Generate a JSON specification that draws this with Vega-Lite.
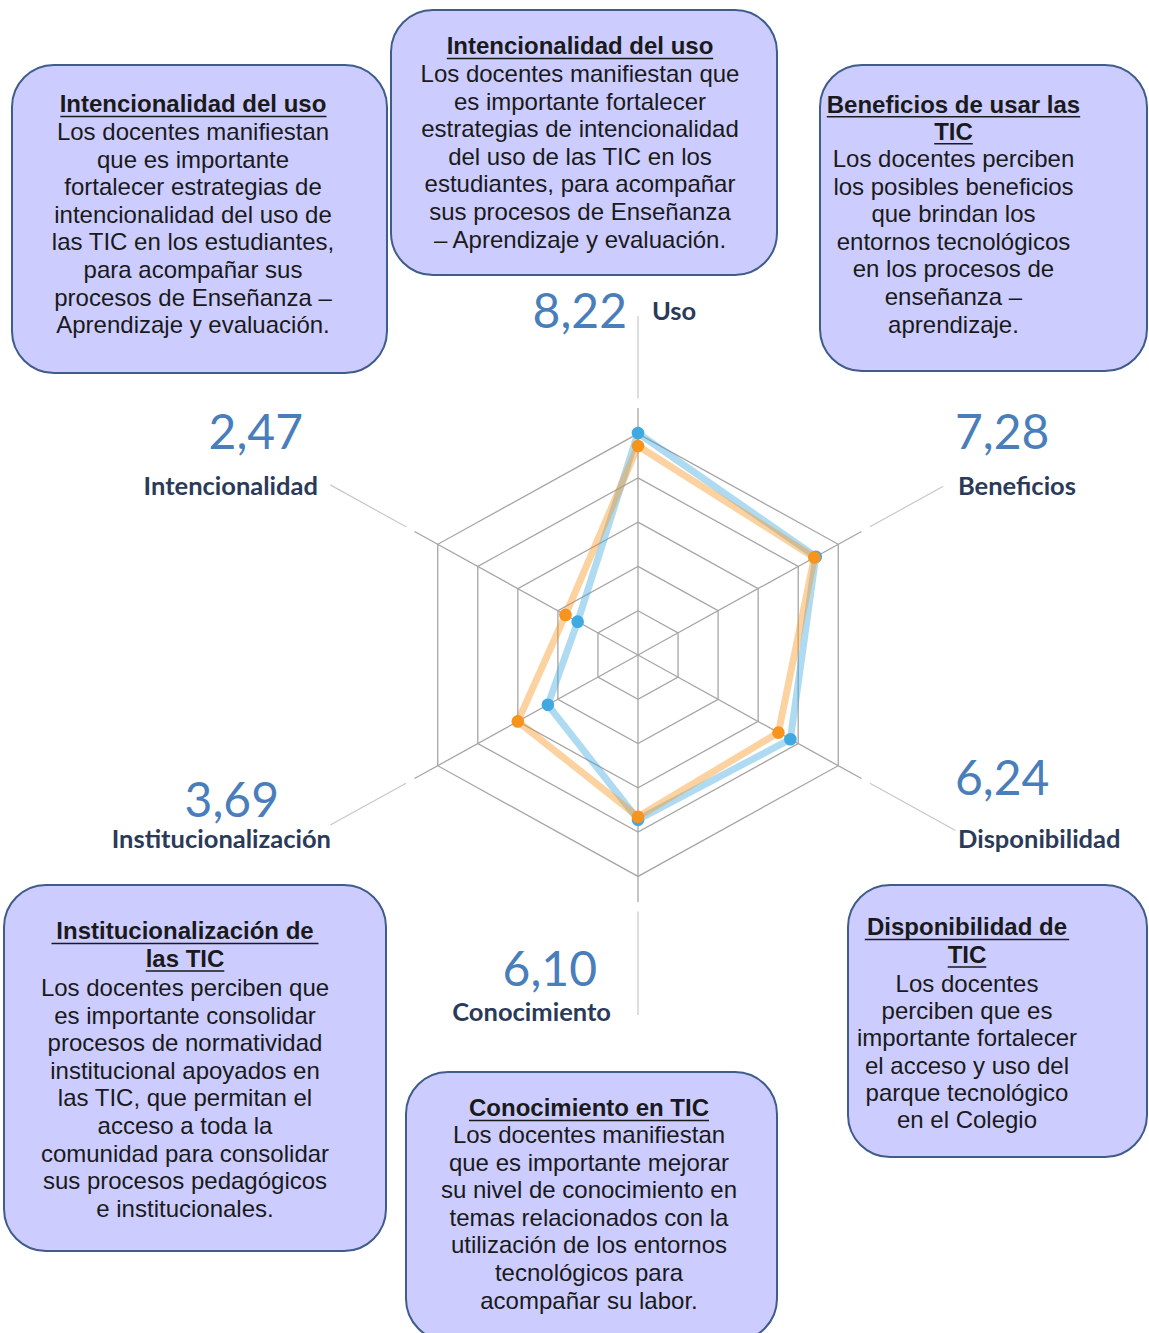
{
"$schema":"https://vega.github.io/schema/vega-lite/v6.json",
"width":1149,"height":1333,
"autosize":{"type":"fit","contains":"padding"},
"padding":0,
"background":"white",
"config":{"view":{"stroke":null},"axis":{"disable":true},"legend":{"disable":true},
 "locale":{"number":{"decimal":",","thousands":".","grouping":[3],"currency":["","€"]}}},
"datasets":{
 "axes":[{"cat":"Uso","k":0},{"cat":"Beneficios","k":1},{"cat":"Disponibilidad","k":2},{"cat":"Conocimiento","k":3},{"cat":"Institucionalización","k":4},{"cat":"Intencionalidad","k":5}],
 "rings":[{"level":1.64,"k":[0,1,2,3,4,5]},{"level":3.28,"k":[0,1,2,3,4,5]},{"level":4.92,"k":[0,1,2,3,4,5]},{"level":6.56,"k":[0,1,2,3,4,5]},{"level":8.2,"k":[0,1,2,3,4,5]}],
 "scores":[
  {"series":"A","cat":"Uso","value":8.22},{"series":"A","cat":"Beneficios","value":7.28},{"series":"A","cat":"Disponibilidad","value":6.24},{"series":"A","cat":"Conocimiento","value":6.10},{"series":"A","cat":"Institucionalización","value":3.69},{"series":"A","cat":"Intencionalidad","value":2.47},
  {"series":"B","cat":"Uso","value":7.74},{"series":"B","cat":"Beneficios","value":7.22},{"series":"B","cat":"Disponibilidad","value":5.75},{"series":"B","cat":"Conocimiento","value":5.99},{"series":"B","cat":"Institucionalización","value":4.92},{"series":"B","cat":"Intencionalidad","value":2.97}],
 "notes":[
  {"box":"Uso","title":["Intencionalidad del uso"],"body":["Los docentes manifiestan que","es importante fortalecer","estrategias de intencionalidad","del uso de las TIC en los","estudiantes, para acompañar","sus procesos de Enseñanza","– Aprendizaje y evaluación."]},
  {"box":"Intencionalidad","title":["Intencionalidad del uso"],"body":["Los docentes manifiestan","que es importante","fortalecer estrategias de","intencionalidad del uso de","las TIC en los estudiantes,","para acompañar sus","procesos de Enseñanza –","Aprendizaje y evaluación."]},
  {"box":"Beneficios","title":["Beneficios de usar las","TIC"],"body":["Los docentes perciben","los posibles beneficios","que brindan los","entornos tecnológicos","en los procesos de","enseñanza –","aprendizaje."]},
  {"box":"Disponibilidad","title":["Disponibilidad de","TIC"],"body":["Los docentes","perciben que es","importante fortalecer","el acceso y uso del","parque tecnológico","en el Colegio"]},
  {"box":"Conocimiento","title":["Conocimiento en TIC"],"body":["Los docentes manifiestan","que es importante mejorar","su nivel de conocimiento en","temas relacionados con la","utilización de los entornos","tecnológicos para","acompañar su labor."]},
  {"box":"Institucionalización","title":["Institucionalización de","las TIC"],"body":["Los docentes perciben que","es importante consolidar","procesos de normatividad","institucional apoyados en","las TIC, que permitan el","acceso a toda la","comunidad para consolidar","sus procesos pedagógicos","e institucionales."]}
 ]
},
"layer":[
 {"data":{"name":"rings"},
  "transform":[{"flatten":["k"]},{"calculate":"datum.level*sin(datum.k*PI/3)","as":"x"},{"calculate":"datum.level*cos(datum.k*PI/3)","as":"y"}],
  "mark":{"type":"line","interpolate":"linear-closed","color":"#A6A6A6","strokeWidth":1.3},
  "encoding":{"x":{"field":"x","type":"quantitative","scale":{"domain":[-22.624,18.121],"nice":false,"zero":false}},
   "y":{"field":"y","type":"quantitative","scale":{"domain":[-25.111,24.259],"nice":false,"zero":false}},
   "detail":{"field":"level","type":"nominal"},"order":{"field":"k","type":"quantitative"}}},
 {"data":{"name":"axes"},
  "transform":[{"calculate":"9.15*sin(datum.k*PI/3)","as":"x"},{"calculate":"9.15*cos(datum.k*PI/3)","as":"y"}],
  "mark":{"type":"rule","color":"#A6A6A6","strokeWidth":1.3},
  "encoding":{"x":{"field":"x","type":"quantitative"},"y":{"field":"y","type":"quantitative"},"x2":{"datum":0},"y2":{"datum":0}}},
 {"data":{"name":"axes"},
  "transform":[{"calculate":"[12.55,12.5,13.0,13.33,12.6,12.6][datum.k]","as":"r1"},
   {"calculate":"9.5*sin(datum.k*PI/3)","as":"x"},{"calculate":"9.5*cos(datum.k*PI/3)","as":"y"},
   {"calculate":"datum.r1*sin(datum.k*PI/3)","as":"x2"},{"calculate":"datum.r1*cos(datum.k*PI/3)","as":"y2"}],
  "mark":{"type":"rule","color":"#C8C8C8","strokeWidth":1.2},
  "encoding":{"x":{"field":"x","type":"quantitative"},"y":{"field":"y","type":"quantitative"},"x2":{"field":"x2"},"y2":{"field":"y2"}}},
 {"data":{"name":"scores"},
  "transform":[{"lookup":"cat","from":{"data":{"name":"axes"},"key":"cat","fields":["k"]}},
   {"calculate":"datum.value*sin(datum.k*PI/3)","as":"x"},{"calculate":"datum.value*cos(datum.k*PI/3)","as":"y"}],
  "mark":{"type":"line","interpolate":"linear-closed","strokeWidth":7,"opacity":0.42,"strokeJoin":"round"},
  "encoding":{"x":{"field":"x","type":"quantitative"},"y":{"field":"y","type":"quantitative"},
   "color":{"field":"series","type":"nominal","scale":{"domain":["A","B"],"range":["#41A9E1","#F7941D"]}},
   "order":{"field":"k","type":"quantitative"}}},
 {"data":{"name":"scores"},
  "transform":[{"lookup":"cat","from":{"data":{"name":"axes"},"key":"cat","fields":["k"]}},
   {"calculate":"datum.value*sin(datum.k*PI/3)","as":"x"},{"calculate":"datum.value*cos(datum.k*PI/3)","as":"y"}],
  "mark":{"type":"point","filled":true,"size":160,"opacity":1},
  "encoding":{"x":{"field":"x","type":"quantitative"},"y":{"field":"y","type":"quantitative"},
   "color":{"field":"series","type":"nominal","scale":{"domain":["A","B"],"range":["#41A9E1","#F7941D"]}}}},

 {"data":{"name":"scores"},"transform":[{"filter":"datum.series=='A' && datum.cat=='Uso'"}],
  "mark":{"type":"text","align":"right","baseline":"middle","font":"Lato","fontSize":48,"color":"#4A7EBB"},
  "encoding":{"x":{"datum":-0.39,"type":"quantitative"},"y":{"datum":12.63,"type":"quantitative"},"text":{"field":"value","type":"quantitative","format":".2f"}}},
 {"data":{"name":"scores"},"transform":[{"filter":"datum.series=='A' && datum.cat=='Intencionalidad'"}],
  "mark":{"type":"text","align":"right","baseline":"middle","font":"Lato","fontSize":48,"color":"#4A7EBB"},
  "encoding":{"x":{"datum":-11.879,"type":"quantitative"},"y":{"datum":8.148,"type":"quantitative"},"text":{"field":"value","type":"quantitative","format":".2f"}}},
 {"data":{"name":"scores"},"transform":[{"filter":"datum.series=='A' && datum.cat=='Beneficios'"}],
  "mark":{"type":"text","align":"left","baseline":"middle","font":"Lato","fontSize":48,"color":"#4A7EBB"},
  "encoding":{"x":{"datum":11.241,"type":"quantitative"},"y":{"datum":8.148,"type":"quantitative"},"text":{"field":"value","type":"quantitative","format":".2f"}}},
 {"data":{"name":"scores"},"transform":[{"filter":"datum.series=='A' && datum.cat=='Disponibilidad'"}],
  "mark":{"type":"text","align":"left","baseline":"middle","font":"Lato","fontSize":48,"color":"#4A7EBB"},
  "encoding":{"x":{"datum":11.241,"type":"quantitative"},"y":{"datum":-4.667,"type":"quantitative"},"text":{"field":"value","type":"quantitative","format":".2f"}}},
 {"data":{"name":"scores"},"transform":[{"filter":"datum.series=='A' && datum.cat=='Institucionalización'"}],
  "mark":{"type":"text","align":"right","baseline":"middle","font":"Lato","fontSize":48,"color":"#4A7EBB"},
  "encoding":{"x":{"datum":-12.73,"type":"quantitative"},"y":{"datum":-5.481,"type":"quantitative"},"text":{"field":"value","type":"quantitative","format":".2f"}}},
 {"data":{"name":"scores"},"transform":[{"filter":"datum.series=='A' && datum.cat=='Conocimiento'"}],
  "mark":{"type":"text","align":"right","baseline":"middle","font":"Lato","fontSize":48,"color":"#4A7EBB"},
  "encoding":{"x":{"datum":-1.454,"type":"quantitative"},"y":{"datum":-11.741,"type":"quantitative"},"text":{"field":"value","type":"quantitative","format":".2f"}}},

 {"data":{"name":"axes"},"transform":[{"filter":"datum.cat=='Uso'"}],
  "mark":{"type":"text","align":"left","baseline":"middle","font":"Lato","fontWeight":"bold","fontSize":25.5,"color":"#2B3A58"},
  "encoding":{"x":{"datum":0.496,"type":"quantitative"},"y":{"datum":12.704,"type":"quantitative"},"text":{"field":"cat"}}},
 {"data":{"name":"axes"},"transform":[{"filter":"datum.cat=='Beneficios'"}],
  "mark":{"type":"text","align":"left","baseline":"middle","font":"Lato","fontWeight":"bold","fontSize":25.5,"color":"#2B3A58"},
  "encoding":{"x":{"datum":11.348,"type":"quantitative"},"y":{"datum":6.222,"type":"quantitative"},"text":{"field":"cat"}}},
 {"data":{"name":"axes"},"transform":[{"filter":"datum.cat=='Disponibilidad'"}],
  "mark":{"type":"text","align":"left","baseline":"middle","font":"Lato","fontWeight":"bold","fontSize":25.5,"color":"#2B3A58"},
  "encoding":{"x":{"datum":11.348,"type":"quantitative"},"y":{"datum":-6.852,"type":"quantitative"},"text":{"field":"cat"}}},
 {"data":{"name":"axes"},"transform":[{"filter":"datum.cat=='Conocimiento'"}],
  "mark":{"type":"text","align":"right","baseline":"middle","font":"Lato","fontWeight":"bold","fontSize":25.5,"color":"#2B3A58"},
  "encoding":{"x":{"datum":-0.957,"type":"quantitative"},"y":{"datum":-13.259,"type":"quantitative"},"text":{"field":"cat"}}},
 {"data":{"name":"axes"},"transform":[{"filter":"datum.cat=='Institucionalización'"}],
  "mark":{"type":"text","align":"right","baseline":"middle","font":"Lato","fontWeight":"bold","fontSize":25.5,"color":"#2B3A58"},
  "encoding":{"x":{"datum":-10.887,"type":"quantitative"},"y":{"datum":-6.852,"type":"quantitative"},"text":{"field":"cat"}}},
 {"data":{"name":"axes"},"transform":[{"filter":"datum.cat=='Intencionalidad'"}],
  "mark":{"type":"text","align":"right","baseline":"middle","font":"Lato","fontWeight":"bold","fontSize":25.5,"color":"#2B3A58"},
  "encoding":{"x":{"datum":-11.348,"type":"quantitative"},"y":{"datum":6.222,"type":"quantitative"},"text":{"field":"cat"}}},

 {"data":{"name":"notes"},"transform":[{"filter":"datum.box=='Intencionalidad'"}],
  "mark":{"type":"rect","cornerRadius":42,"fill":"#CCCCFF","stroke":"#3F5C8A","strokeWidth":2},
  "encoding":{"x":{"datum":-22.199,"type":"quantitative"},"x2":{"datum":-8.901},"y":{"datum":21.852,"type":"quantitative"},"y2":{"datum":10.444}}},
 {"data":{"name":"notes"},"transform":[{"filter":"datum.box=='Uso'"}],
  "mark":{"type":"rect","cornerRadius":42,"fill":"#CCCCFF","stroke":"#3F5C8A","strokeWidth":2},
  "encoding":{"x":{"datum":-8.759,"type":"quantitative"},"x2":{"datum":4.929},"y":{"datum":23.889,"type":"quantitative"},"y2":{"datum":14.074}}},
 {"data":{"name":"notes"},"transform":[{"filter":"datum.box=='Beneficios'"}],
  "mark":{"type":"rect","cornerRadius":42,"fill":"#CCCCFF","stroke":"#3F5C8A","strokeWidth":2,"clip":true},
  "encoding":{"x":{"datum":6.454,"type":"quantitative"},"x2":{"datum":18.05},"y":{"datum":21.852,"type":"quantitative"},"y2":{"datum":10.519}}},
 {"data":{"name":"notes"},"transform":[{"filter":"datum.box=='Institucionalización'"}],
  "mark":{"type":"rect","cornerRadius":42,"fill":"#CCCCFF","stroke":"#3F5C8A","strokeWidth":2},
  "encoding":{"x":{"datum":-22.482,"type":"quantitative"},"x2":{"datum":-8.936},"y":{"datum":-8.519,"type":"quantitative"},"y2":{"datum":-22.074}}},
 {"data":{"name":"notes"},"transform":[{"filter":"datum.box=='Conocimiento'"}],
  "mark":{"type":"rect","cornerRadius":42,"fill":"#CCCCFF","stroke":"#3F5C8A","strokeWidth":2,"clip":true},
  "encoding":{"x":{"datum":-8.227,"type":"quantitative"},"x2":{"datum":4.929},"y":{"datum":-15.444,"type":"quantitative"},"y2":{"datum":-25.4}}},
 {"data":{"name":"notes"},"transform":[{"filter":"datum.box=='Disponibilidad'"}],
  "mark":{"type":"rect","cornerRadius":42,"fill":"#CCCCFF","stroke":"#3F5C8A","strokeWidth":2,"clip":true},
  "encoding":{"x":{"datum":7.447,"type":"quantitative"},"x2":{"datum":18.05},"y":{"datum":-8.519,"type":"quantitative"},"y2":{"datum":-18.593}}},

 {"data":{"name":"notes"},"transform":[{"filter":"datum.box=='Intencionalidad'"}],
  "mark":{"type":"text","align":"center","baseline":"alphabetic","font":"Liberation Sans","fontWeight":"bold","fontSize":24,"lineHeight":27.6,"color":"#1A1A1A"},
  "encoding":{"x":{"datum":-15.78,"type":"quantitative"},"y":{"datum":20.111,"type":"quantitative"},"text":{"field":"title"}}},
 {"data":{"name":"notes"},"transform":[{"filter":"datum.box=='Intencionalidad'"}],
  "mark":{"type":"text","align":"center","baseline":"alphabetic","font":"Liberation Sans","fontSize":24,"lineHeight":27.6,"color":"#1A1A1A"},
  "encoding":{"x":{"datum":-15.78,"type":"quantitative"},"y":{"datum":19.074,"type":"quantitative"},"text":{"field":"body"}}},
 {"data":{"name":"notes"},"transform":[{"filter":"datum.box=='Uso'"}],
  "mark":{"type":"text","align":"center","baseline":"alphabetic","font":"Liberation Sans","fontWeight":"bold","fontSize":24,"lineHeight":27.6,"color":"#1A1A1A"},
  "encoding":{"x":{"datum":-2.057,"type":"quantitative"},"y":{"datum":22.259,"type":"quantitative"},"text":{"field":"title"}}},
 {"data":{"name":"notes"},"transform":[{"filter":"datum.box=='Uso'"}],
  "mark":{"type":"text","align":"center","baseline":"alphabetic","font":"Liberation Sans","fontSize":24,"lineHeight":27.6,"color":"#1A1A1A"},
  "encoding":{"x":{"datum":-2.057,"type":"quantitative"},"y":{"datum":21.222,"type":"quantitative"},"text":{"field":"body"}}},
 {"data":{"name":"notes"},"transform":[{"filter":"datum.box=='Beneficios'"}],
  "mark":{"type":"text","align":"center","baseline":"alphabetic","font":"Liberation Sans","fontWeight":"bold","fontSize":24,"lineHeight":27,"color":"#1A1A1A"},
  "encoding":{"x":{"datum":11.188,"type":"quantitative"},"y":{"datum":20.074,"type":"quantitative"},"text":{"field":"title"}}},
 {"data":{"name":"notes"},"transform":[{"filter":"datum.box=='Beneficios'"}],
  "mark":{"type":"text","align":"center","baseline":"alphabetic","font":"Liberation Sans","fontSize":24,"lineHeight":27.6,"color":"#1A1A1A"},
  "encoding":{"x":{"datum":11.188,"type":"quantitative"},"y":{"datum":18.074,"type":"quantitative"},"text":{"field":"body"}}},
 {"data":{"name":"notes"},"transform":[{"filter":"datum.box=='Institucionalización'"}],
  "mark":{"type":"text","align":"center","baseline":"alphabetic","font":"Liberation Sans","fontWeight":"bold","fontSize":24,"lineHeight":27.6,"color":"#1A1A1A"},
  "encoding":{"x":{"datum":-16.064,"type":"quantitative"},"y":{"datum":-10.519,"type":"quantitative"},"text":{"field":"title"}}},
 {"data":{"name":"notes"},"transform":[{"filter":"datum.box=='Institucionalización'"}],
  "mark":{"type":"text","align":"center","baseline":"alphabetic","font":"Liberation Sans","fontSize":24,"lineHeight":27.6,"color":"#1A1A1A"},
  "encoding":{"x":{"datum":-16.064,"type":"quantitative"},"y":{"datum":-12.63,"type":"quantitative"},"text":{"field":"body"}}},
 {"data":{"name":"notes"},"transform":[{"filter":"datum.box=='Conocimiento'"}],
  "mark":{"type":"text","align":"center","baseline":"alphabetic","font":"Liberation Sans","fontWeight":"bold","fontSize":24,"lineHeight":27.6,"color":"#1A1A1A"},
  "encoding":{"x":{"datum":-1.738,"type":"quantitative"},"y":{"datum":-17.074,"type":"quantitative"},"text":{"field":"title"}}},
 {"data":{"name":"notes"},"transform":[{"filter":"datum.box=='Conocimiento'"}],
  "mark":{"type":"text","align":"center","baseline":"alphabetic","font":"Liberation Sans","fontSize":24,"lineHeight":27.6,"color":"#1A1A1A"},
  "encoding":{"x":{"datum":-1.738,"type":"quantitative"},"y":{"datum":-18.074,"type":"quantitative"},"text":{"field":"body"}}},
 {"data":{"name":"notes"},"transform":[{"filter":"datum.box=='Disponibilidad'"}],
  "mark":{"type":"text","align":"center","baseline":"alphabetic","font":"Liberation Sans","fontWeight":"bold","fontSize":24,"lineHeight":27.6,"color":"#1A1A1A"},
  "encoding":{"x":{"datum":11.667,"type":"quantitative"},"y":{"datum":-10.37,"type":"quantitative"},"text":{"field":"title"}}},
 {"data":{"name":"notes"},"transform":[{"filter":"datum.box=='Disponibilidad'"}],
  "mark":{"type":"text","align":"center","baseline":"alphabetic","font":"Liberation Sans","fontSize":24,"lineHeight":27.2,"color":"#1A1A1A"},
  "encoding":{"x":{"datum":11.667,"type":"quantitative"},"y":{"datum":-12.481,"type":"quantitative"},"text":{"field":"body"}}},

 {"data":{"name":"notes"},"transform":[{"filter":"datum.box=='Intencionalidad'"}],
  "mark":{"type":"rule","color":"#1A1A1A","strokeWidth":1.5},
  "encoding":{"x":{"datum":-20.486,"type":"quantitative"},"x2":{"datum":-11.046},"y":{"datum":19.944,"type":"quantitative"}}},
 {"data":{"name":"notes"},"transform":[{"filter":"datum.box=='Uso'"}],
  "mark":{"type":"rule","color":"#1A1A1A","strokeWidth":1.5},
  "encoding":{"x":{"datum":-6.78,"type":"quantitative"},"x2":{"datum":2.667},"y":{"datum":22.093,"type":"quantitative"}}},
 {"data":{"name":"notes"},"transform":[{"filter":"datum.box=='Beneficios'"}],
  "mark":{"type":"rule","color":"#1A1A1A","strokeWidth":1.5},
  "encoding":{"x":{"datum":6.695,"type":"quantitative"},"x2":{"datum":15.681},"y":{"datum":19.937,"type":"quantitative"}}},
 {"data":{"name":"notes"},"transform":[{"filter":"datum.box=='Beneficios'"}],
  "mark":{"type":"rule","color":"#1A1A1A","strokeWidth":1.5},
  "encoding":{"x":{"datum":10.504,"type":"quantitative"},"x2":{"datum":11.872},"y":{"datum":18.937,"type":"quantitative"}}},
 {"data":{"name":"notes"},"transform":[{"filter":"datum.box=='Institucionalización'"}],
  "mark":{"type":"rule","color":"#1A1A1A","strokeWidth":1.5},
  "encoding":{"x":{"datum":-20.798,"type":"quantitative"},"x2":{"datum":-11.33},"y":{"datum":-10.685,"type":"quantitative"}}},
 {"data":{"name":"notes"},"transform":[{"filter":"datum.box=='Institucionalización'"}],
  "mark":{"type":"rule","color":"#1A1A1A","strokeWidth":1.5},
  "encoding":{"x":{"datum":-17.457,"type":"quantitative"},"x2":{"datum":-14.67},"y":{"datum":-11.704,"type":"quantitative"}}},
 {"data":{"name":"notes"},"transform":[{"filter":"datum.box=='Conocimiento'"}],
  "mark":{"type":"rule","color":"#1A1A1A","strokeWidth":1.5},
  "encoding":{"x":{"datum":-5.993,"type":"quantitative"},"x2":{"datum":2.518},"y":{"datum":-17.241,"type":"quantitative"}}},
 {"data":{"name":"notes"},"transform":[{"filter":"datum.box=='Disponibilidad'"}],
  "mark":{"type":"rule","color":"#1A1A1A","strokeWidth":1.5},
  "encoding":{"x":{"datum":8.043,"type":"quantitative"},"x2":{"datum":15.291},"y":{"datum":-10.537,"type":"quantitative"}}},
 {"data":{"name":"notes"},"transform":[{"filter":"datum.box=='Disponibilidad'"}],
  "mark":{"type":"rule","color":"#1A1A1A","strokeWidth":1.5},
  "encoding":{"x":{"datum":10.982,"type":"quantitative"},"x2":{"datum":12.351},"y":{"datum":-11.556,"type":"quantitative"}}}
]
}
